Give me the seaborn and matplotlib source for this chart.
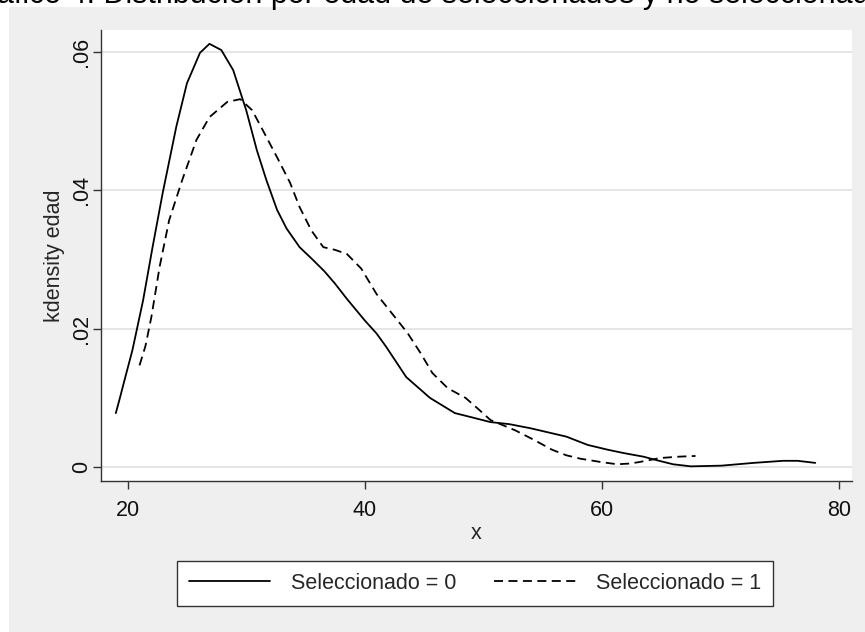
import pandas as pd
import seaborn as sns
import matplotlib.pyplot as plt
from matplotlib.patches import Rectangle

# densidad kernel de la edad
edad_0 = [19.0, 19.3, 19.8, 20.4, 21.3, 22.1, 22.95, 24.1, 25.0, 26.1, 26.9, 27.9,
          28.9, 30.0, 30.9, 31.7, 32.6, 33.4, 34.5, 35.6, 36.6, 37.5, 38.5, 40.0,
          41.0, 41.8, 43.5, 45.5, 47.6, 49.0, 50.6, 52.2, 54.0, 55.5, 57.0, 58.8,
          60.5, 61.9, 63.5, 64.6, 66.0, 67.5, 70.1, 72.8, 75.3, 76.5, 78.0]
dens_0 = [0.0078, 0.0097, 0.0130, 0.0169, 0.0241, 0.0318, 0.0396, 0.0492, 0.0555,
          0.0599, 0.0612, 0.0603, 0.0574, 0.0516, 0.0458, 0.0415, 0.0372, 0.0345,
          0.0318, 0.0300, 0.0283, 0.0265, 0.0243, 0.0212, 0.0193, 0.0174, 0.0130,
          0.0100, 0.0078, 0.0072, 0.0065, 0.0062, 0.0056, 0.0050, 0.0044, 0.0032,
          0.0025, 0.0020, 0.0015, 0.0010, 0.0004, 0.0001, 0.0002, 0.0006, 0.0009,
          0.0009, 0.0006]

edad_1 = [21.0, 21.5, 22.0, 22.7, 23.5, 24.6, 25.8, 26.9, 28.4, 29.5, 30.5, 31.4,
          32.6, 33.7, 34.5, 35.5, 36.5, 37.5, 38.5, 39.7, 41.0, 42.3, 43.6, 44.7,
          45.7, 47.0, 48.5, 49.5, 50.6, 52.7, 54.3, 55.8, 57.0, 58.2, 60.0, 61.3,
          62.3, 63.1, 64.9, 66.5, 67.9]
dens_1 = [0.0147, 0.0175, 0.0217, 0.0290, 0.0357, 0.0415, 0.0473, 0.0506, 0.0528,
          0.0532, 0.0516, 0.0487, 0.0448, 0.0411, 0.0376, 0.0342, 0.0318, 0.0314,
          0.0308, 0.0287, 0.0250, 0.0222, 0.0194, 0.0165, 0.0136, 0.0114, 0.0100,
          0.0085, 0.0068, 0.0053, 0.0039, 0.0025, 0.0017, 0.0012, 0.0007, 0.0004,
          0.0005, 0.0007, 0.0013, 0.0015, 0.0016]

grupos = ['Seleccionado = 0', 'Seleccionado = 1']
x_ticks = [20, 40, 60, 80]
y_ticks = [0, 0.02, 0.04, 0.06]
y_tick_labels = ['0', '.02', '.04', '.06']
titulo = 'Gráfico 4. Distribución por edad de seleccionados y no seleccionados'

df = pd.concat([
    pd.DataFrame({'edad': edad_0, 'densidad': dens_0, 'grupo': grupos[0]}),
    pd.DataFrame({'edad': edad_1, 'densidad': dens_1, 'grupo': grupos[1]}),
])

sns.set_theme(style='white')
plt.rcParams['font.family'] = ['Liberation Sans', 'DejaVu Sans']

fig = plt.figure(figsize=(8.65, 6.32), dpi=100, facecolor='white')
fig.patches.append(Rectangle((9 / 865, 0), 1, 1 - 7 / 632, transform=fig.transFigure,
                             facecolor='#efefef', edgecolor='none', zorder=-10))
# el titulo del documento queda cortado en el borde superior, como en el original
fig.text(0.5, 1 - 3 / 632, titulo, ha='center', va='baseline', fontsize=22, color='black')

ax = fig.add_axes([101 / 865, 1 - 481 / 632, 751 / 865, 451 / 632])
ax.set_facecolor('white')

sns.lineplot(data=df, x='edad', y='densidad', hue='grupo', style='grupo',
             palette=['black', 'black'], dashes={grupos[0]: '', grupos[1]: (5, 3)},
             estimator=None, sort=False, linewidth=1.3, legend=False, ax=ax)

ax.set_xlim(17.75, 81.1)
ax.set_ylim(-0.00202, 0.0632)
ax.set_xticks(x_ticks)
ax.set_yticks(y_ticks)
ax.set_yticklabels(y_tick_labels, rotation=90, va='center')
ax.yaxis.grid(True, color='#e3e3e3', linewidth=1.3)
ax.set_axisbelow(True)

for side in ['top', 'right']:
    ax.spines[side].set_visible(False)
for side in ['left', 'bottom']:
    ax.spines[side].set_color('#333333')
    ax.spines[side].set_linewidth(1.0)

ax.tick_params(axis='both', direction='out', length=5.8, width=1.0, color='#333333',
               labelsize=15.5, labelcolor='#111111', left=True, bottom=True)
ax.tick_params(axis='y', pad=0.5)
ax.tick_params(axis='x', pad=8)
ax.set_xlabel('x', fontsize=15.5, labelpad=1)
ax.set_ylabel('kdensity edad', fontsize=15.5, labelpad=4.5)

leg = ax.legend(ax.lines[:2], grupos, loc='center', ncol=2,
                bbox_to_anchor=(475 / 865, 1 - 583.5 / 632),
                bbox_transform=fig.transFigure, fontsize=15.5, frameon=True,
                fancybox=False, edgecolor='#333333', facecolor='white', framealpha=1,
                handlelength=3.8, handletextpad=0.95, columnspacing=1.75,
                borderpad=0.55)
leg.get_frame().set_linewidth(1.0)

fig.savefig('out.png', dpi=100)
